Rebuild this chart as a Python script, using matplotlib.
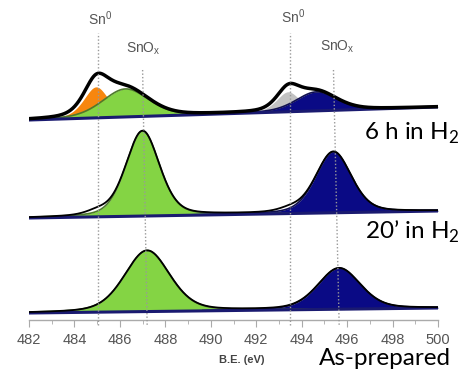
import numpy as np
import matplotlib.pyplot as plt

plt.rcParams['mathtext.fontset'] = 'custom'
plt.rcParams['mathtext.rm'] = 'Liberation Sans'

# peak components: (centre eV, height, FWHM eV)
# heights/offsets are in figure pixels, spectra stacked bottom -> top
spectra = ['As-prepared', "20\u2019 in H$_\\mathregular{2}$", '6 h in H$_\\mathregular{2}$']
baseline_left = [7, 102, 200]
baseline_right = [12, 109, 213]

sn0_left = [None, (485.0, 4, 1.2), (484.95, 31, 1.3)]
snox_left = [(487.2, 61, 2.35), (487.0, 85, 1.75), (486.25, 28, 2.4)]
sn0_right = [None, (493.45, 3, 1.2), (493.4, 20, 1.2)]
snox_right = [(495.65, 41, 2.2), (495.4, 61, 1.85), (494.65, 19, 2.1)]

sn0_lines = [485.05, 493.5]
snox_lines = [(487.0, 487.2), (495.4, 495.65)]

green = '#84d444'
orange = '#f7860e'
grey = '#c2c2c2'
navy = '#0a0a85'


def peak(x, c, h, w, eta=0.3):
    g = np.exp(-4 * np.log(2) * ((x - c) / w) ** 2)
    l = 1 / (1 + 4 * ((x - c) / w) ** 2)
    return h * ((1 - eta) * g + eta * l)


fig = plt.figure(figsize=(4.62, 3.69), dpi=100)
ax = fig.add_axes([29 / 462, 49 / 369, 409 / 462, 320 / 369])
ax.set_xlim(482, 500)
ax.set_ylim(0, 320)

x = np.linspace(482, 500, 1200)

for i in range(3):
    base = np.interp(x, [482, 500], [baseline_left[i], baseline_right[i]])
    total = np.zeros_like(x)
    for small, col, big in [(sn0_left[i], orange, snox_left[i]), (sn0_right[i], grey, snox_right[i])]:
        bigcol = green if col == orange else navy
        edge = '#4e7a2c' if col == orange else '#101050'
        if small is not None:
            ys = peak(x, *small, eta=0.45)
            total += ys
            ax.fill_between(x, base, base + ys, color=col, lw=0, zorder=2)
        yb = peak(x, *big)
        total += yb
        ax.fill_between(x, base, base + yb, color=bigcol, lw=0, zorder=3)
        mask = yb > 0.4
        ax.plot(x[mask], (base + yb)[mask], color=edge, lw=1.2, zorder=4)
    ax.plot(x, base, color='#1a1a70', lw=2.2, zorder=5, solid_capstyle='round')
    ax.plot(x, base + total, color='black', lw=2.5 if i == 2 else 1.3, zorder=6)

# reference lines
for xv in sn0_lines:
    ax.plot([xv, xv], [-5, 287], color='#999999', lw=1, ls=(0, (1, 1.5)), zorder=7, clip_on=False)
for xt, xb in snox_lines:
    ax.plot([xt, xb], [250, -5], color='#999999', lw=1, ls=(0, (1, 1.5)), zorder=7, clip_on=False)

for s in ['top', 'left', 'right']:
    ax.spines[s].set_visible(False)
ax.spines['bottom'].set_color('#aaaaaa')
ax.spines['bottom'].set_linewidth(1)
ax.set_yticks([])
ax.set_xticks(np.arange(482, 501, 2))
ax.set_xticks(np.arange(483, 500, 2), minor=True)
ax.tick_params(axis='x', which='major', direction='out', length=5, color='#aaaaaa',
               labelcolor='#555555', labelsize=10.5, pad=4)
ax.tick_params(axis='x', which='minor', direction='out', length=3, color='#aaaaaa')
for lab in ax.get_xticklabels():
    lab.set_family('Liberation Sans')

fig.text(242 / 462, 1 - 360 / 369, 'B.E. (eV)', ha='center', va='center',
         fontsize=8, fontweight='bold', color='#444444', family='Liberation Sans')

# peak labels
lab_kw = dict(ha='center', va='center', fontsize=10, color='#555555', family='Liberation Sans')
fig.text(100 / 462, 1 - 19 / 369, 'Sn$^\\mathregular{0}$', **lab_kw)
fig.text(293 / 462, 1 - 17 / 369, 'Sn$^\\mathregular{0}$', **lab_kw)
fig.text(143 / 462, 1 - 49 / 369, 'SnO$_\\mathregular{x}$', **lab_kw)
fig.text(337 / 462, 1 - 47 / 369, 'SnO$_\\mathregular{x}$', **lab_kw)

# sample labels
txt_kw = dict(ha='right', va='baseline', fontsize=17.5, color='black', family='Lato')
fig.text(459 / 462, 1 - 140 / 369, spectra[2], **txt_kw)
fig.text(460 / 462, 1 - 239 / 369, spectra[1], **txt_kw)
fig.text(451 / 462, 1 - 365 / 369, spectra[0], **txt_kw)

fig.savefig('out.png', dpi=100)
